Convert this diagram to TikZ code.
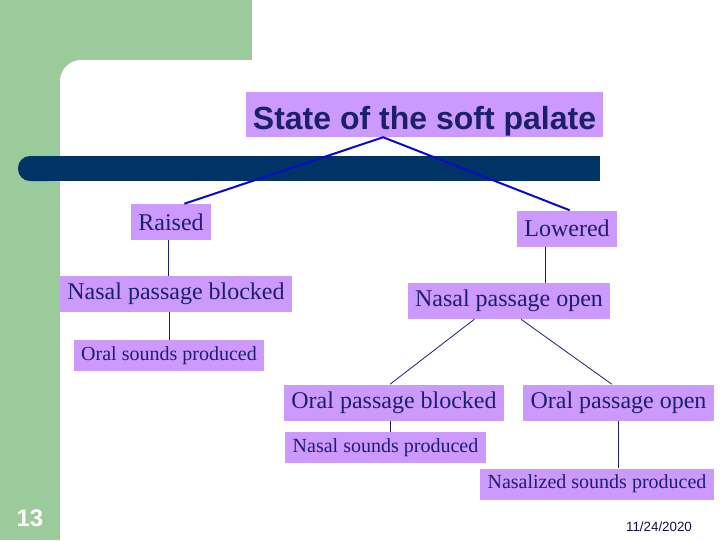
\documentclass[tikz,border=0pt]{standalone}
\usepackage{fontspec}
\setmainfont{Liberation Serif}
\setsansfont{Liberation Sans}
\usetikzlibrary{positioning}

\definecolor{slidegreen}{RGB}{155,203,155}
\definecolor{barblue}{RGB}{0,51,102}
\definecolor{boxlilac}{RGB}{204,153,255}
\definecolor{textnavy}{RGB}{28,32,105}
\definecolor{linkblue}{RGB}{10,10,200}

\begin{document}
\begin{tikzpicture}[x=0.75pt, y=-0.75pt,
        state/.style = {
            rectangle,
            fill=boxlilac,
            text=textnavy,
            font = \sffamily\bfseries\fontsize{24}{28}\selectfont,
            inner xsep=5pt,
            inner ysep=0pt,
            text height=26pt,
            text depth=4pt,
            minimum height=33.75pt
        },
        bigbox/.style = {
            rectangle,
            fill=boxlilac,
            text=textnavy,
            font = \fontsize{18}{21}\selectfont,
            inner xsep=5.5pt,
            minimum height=27pt
        },
        smallbox/.style = {
            rectangle,
            fill=boxlilac,
            text=textnavy,
            font = \fontsize{15}{18}\selectfont,
            inner xsep=5.5pt,
            minimum height=23.25pt
        },
        toplink/.style = {draw=linkblue, line width=1.5pt},
        link/.style = {draw=textnavy, line width=1pt},
        thinlink/.style = {draw=textnavy, line width=0.6pt}  ]

        \useasboundingbox (0,0) rectangle (720,540);

        % slide background
        \fill[slidegreen] (0,0) rectangle (720,540);
        \fill[white] (252,0) rectangle (720,60);
        \fill[white, rounded corners=16pt] (60,60) rectangle (760,580);
        \fill[barblue, rounded corners=9pt] (18,156) rectangle (60,181);
        \fill[barblue] (40,156) rectangle (600,181);

        \node (palate) [state] at (424.5,114.5) {State of the soft palate};

        \node (raised) [bigbox] at (171,222) {Raised};
        \node (lowered) [bigbox] at (567,228.5) {Lowered};

        \node (nasal_blocked) [bigbox] at (176,294) {Nasal passage blocked};
        \node (oral_sounds) [smallbox] at (169,355.5) {Oral sounds produced};

        \node (nasal_open) [bigbox] at (509,301) {Nasal passage open};
        \node (oral_blocked) [bigbox] at (394,402.5) {Oral passage blocked};
        \node (oral_open) [bigbox] at (618.5,402.5) {Oral passage open};
        \node (nasal_sounds) [smallbox] at (385.5,447.5) {Nasal sounds produced};
        \node (nasalized_sounds) [smallbox] at (597,484) {Nasalized sounds produced};

        \node (slide_no) [text=white, font=\sffamily\bfseries\fontsize{18}{21}\selectfont] at (30,518) {13};
        \node (slide_date) [text=textnavy!60!black, font=\sffamily\fontsize{10}{12}\selectfont] at (659,527) {11/24/2020};

        \draw[toplink] ([xshift=10pt]raised.north) -- ([xshift=-31pt]palate.south) -- ([xshift=2pt]lowered.north);
        \draw[link] ([xshift=-2pt]raised.south) -- ([xshift=-2pt]raised.south |- nasal_blocked.north);
        \draw[thinlink] (oral_sounds.north) -- (oral_sounds.north |- nasal_blocked.south);
        \draw[link] ([xshift=-16pt]lowered.south) -- ([xshift=-16pt]lowered.south |- nasal_open.north);
        \draw[thinlink] ([xshift=-26pt]nasal_open.south) -- ([xshift=-3pt]oral_blocked.north);
        \draw[thinlink] ([xshift=9pt]nasal_open.south) -- ([xshift=-5pt]oral_open.north);
        \draw[thinlink] ([xshift=-3pt]oral_blocked.south) -- ([xshift=-3pt]oral_blocked.south |- nasal_sounds.north);
        \draw[thinlink] (oral_open.south) -- (oral_open.south |- nasalized_sounds.north);
    \end{tikzpicture}
\end{document}
